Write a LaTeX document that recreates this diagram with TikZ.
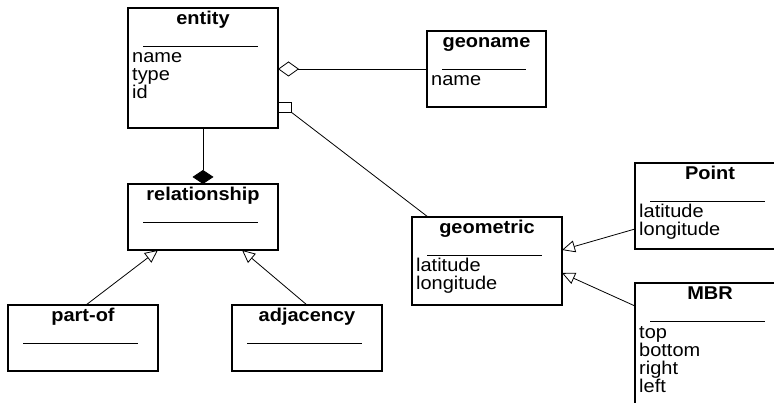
\documentclass[tikz,border=0pt]{standalone}
\usepackage{fontspec}
\setmainfont{Liberation Sans}[FakeStretch=1.08]
\usetikzlibrary{calc}
\usetikzlibrary{arrows.meta}
\tikzset{
  classbox/.style={draw, line width=1.1pt, rectangle, outer sep=0pt, inner sep=0pt},
  classtitle/.style={anchor=base, inner sep=0pt, font=\bfseries\fontsize{18.5}{18}\selectfont},
  classattr/.style={anchor=base west, inner sep=0pt, font=\fontsize{18.5}{18}\selectfont},
  sepline/.style={line width=0.9pt},
  link/.style={line width=0.8pt},
  inherit/.style={link, -{Triangle[open, length=13pt, width=12pt]}},
}
\newcommand{\umlclass}[7]{
  \node[classbox, minimum width={(#4-#2)*1pt}, minimum height={(#5-#3)*1pt}] (#1) at ({(#2+#4)/2},{(#3+#5)/2}) {};
  \node[classtitle] at ($(#1.north)+(0,17)$) {#6};
  \draw[sepline] ($(#1.north west)+(15,38)$) -- ($(#1.north east)+(-20,38)$);
  \foreach \a [count=\i] in {#7} \node[classattr] at ($(#1.north west)+(4,{37+18*\i})$) {\a};
}

\begin{document}
\begin{tikzpicture}[x=1pt, y=-1pt]
  \clip (0,0) rectangle (774,403);
  % classes
  \umlclass{entity}{128}{8}{278}{128}{entity}{name,type,id}
  \umlclass{geoname}{427}{31}{546}{107}{geoname}{name}
  \umlclass{relationship}{128}{184}{278}{250}{relationship}{}
  \umlclass{partof}{8}{305}{158}{371}{part-of}{}
  \umlclass{adjacency}{232}{305}{382}{371}{adjacency}{}
  \umlclass{geometric}{412}{217}{562}{305}{geometric}{latitude,longitude}
  \umlclass{point}{635}{163}{785}{249}{Point}{latitude,longitude}
  \umlclass{mbr}{635}{283}{785}{420}{MBR}{top,bottom,right,left}
  % associations
  \node[draw, link, rectangle, minimum width=13pt, minimum height=10pt, inner sep=0pt, outer sep=0pt, anchor=west] (agg) at ($(entity.north east)+(0,99)$) {};
  \coordinate (geotop) at ($(geometric.north west)+(16,0)$);
  \draw[link, -{Diamond[length=14pt, width=21pt]}] (entity) -- (relationship);
  \draw[link, -{Diamond[open, length=21pt, width=15pt]}] (geoname.west) -- (geoname.west -| entity.east);
  \draw[link] (agg.south east) -- (geotop);
  % generalisations
  \coordinate (partofup) at ($(partof.north)+(3,0)$);
  \coordinate (reltipa) at ($(relationship.south west)+(30,0)$);
  \coordinate (reltipb) at ($(relationship.south east)+(-36,0)$);
  \coordinate (pointout) at ($(point.north west)+(0,66)$);
  \coordinate (mbrout) at ($(mbr.north west)+(0,23)$);
  \coordinate (geotipa) at ($(geometric.north east)+(0,33)$);
  \coordinate (geotipb) at ($(geometric.north east)+(0,56)$);
  \draw[inherit] (partofup) -- (reltipa);
  \draw[inherit] (adjacency.north) -- (reltipb);
  \draw[inherit] (pointout) -- (geotipa);
  \draw[inherit] (mbrout) -- (geotipb);
\end{tikzpicture}
\end{document}
